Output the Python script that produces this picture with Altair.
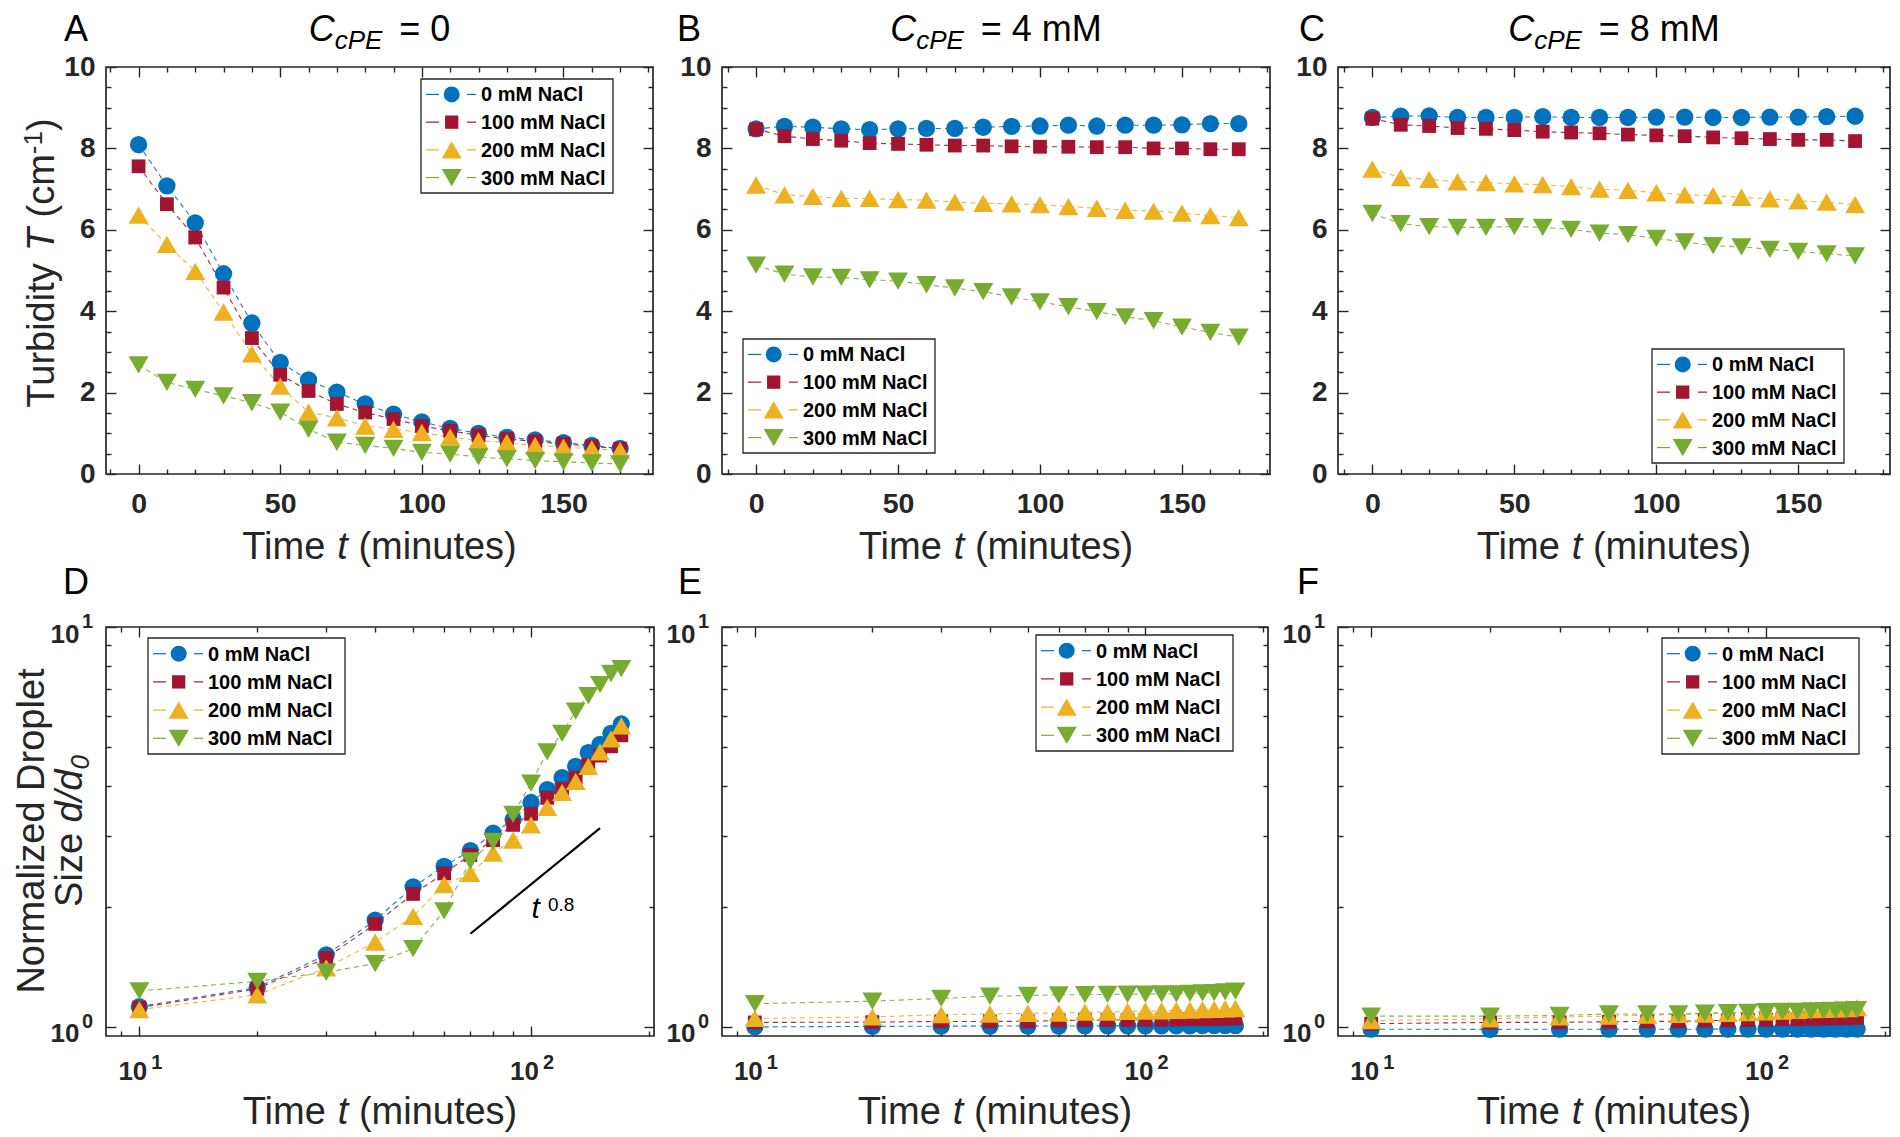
import altair as alt
import pandas as pd

FONT = "Liberation Sans"
INK = "#262626"

# ---------------- data ----------------
SERIES = ["0 mM NaCl", "100 mM NaCl", "200 mM NaCl", "300 mM NaCl"]
COLORS = ["#0072BD", "#A2142F", "#EDB120", "#77AC30"]
SHAPES = ["circle", "square", "triangle-up", "triangle-down"]
MARKER_SIZES = [300, 190, 400, 400]
LEGEND_MARKER_SIZES = [256, 177, 400, 400]

T_LIN = [0, 10, 20, 30, 40, 50, 60, 70, 80, 90, 100, 110, 120, 130, 140, 150, 160, 170]
T_LOG = [10, 20, 30, 40, 50, 60, 70, 80, 90, 100, 110, 120, 130, 140, 150, 160, 170]

# Panel A: C_cPE = 0, turbidity
A_0 = [8.09, 7.08, 6.17, 4.92, 3.71, 2.74, 2.31, 2.01, 1.72, 1.47, 1.28, 1.12, 1.00, 0.90, 0.84, 0.77, 0.70, 0.63]
A_100 = [7.56, 6.63, 5.81, 4.58, 3.34, 2.44, 2.04, 1.72, 1.51, 1.35, 1.18, 1.06, 0.95, 0.86, 0.80, 0.74, 0.68, 0.62]
A_200 = [6.36, 5.64, 4.98, 3.98, 2.95, 2.16, 1.52, 1.38, 1.18, 1.10, 1.02, 0.91, 0.82, 0.77, 0.70, 0.66, 0.62, 0.58]
A_300 = [2.68, 2.25, 2.08, 1.92, 1.75, 1.52, 1.10, 0.78, 0.70, 0.63, 0.53, 0.49, 0.42, 0.37, 0.33, 0.30, 0.27, 0.25]

# Panel B: C_cPE = 4 mM
B_0 = [8.48, 8.54, 8.52, 8.48, 8.46, 8.48, 8.49, 8.49, 8.52, 8.54, 8.55, 8.57, 8.55, 8.57, 8.57, 8.58, 8.61, 8.61]
B_100 = [8.47, 8.30, 8.23, 8.19, 8.13, 8.11, 8.09, 8.07, 8.07, 8.05, 8.04, 8.04, 8.03, 8.03, 8.00, 8.00, 7.98, 7.98]
B_200 = [7.10, 6.86, 6.82, 6.77, 6.77, 6.74, 6.73, 6.68, 6.65, 6.64, 6.62, 6.57, 6.53, 6.48, 6.46, 6.41, 6.35, 6.30]
B_300 = [5.13, 4.91, 4.84, 4.83, 4.77, 4.74, 4.65, 4.57, 4.48, 4.35, 4.23, 4.11, 3.99, 3.86, 3.77, 3.61, 3.48, 3.36]

# Panel C: C_cPE = 8 mM
C_0 = [8.76, 8.79, 8.80, 8.76, 8.76, 8.76, 8.78, 8.76, 8.76, 8.76, 8.77, 8.77, 8.76, 8.76, 8.77, 8.77, 8.78, 8.79]
C_100 = [8.73, 8.58, 8.55, 8.50, 8.48, 8.45, 8.41, 8.39, 8.37, 8.34, 8.32, 8.30, 8.27, 8.25, 8.23, 8.21, 8.21, 8.18]
C_200 = [7.49, 7.28, 7.24, 7.18, 7.16, 7.13, 7.11, 7.06, 7.00, 6.97, 6.91, 6.86, 6.84, 6.80, 6.76, 6.71, 6.68, 6.62]
C_300 = [6.40, 6.15, 6.08, 6.06, 6.06, 6.08, 6.06, 6.01, 5.92, 5.88, 5.79, 5.70, 5.61, 5.58, 5.52, 5.47, 5.41, 5.36]

# Panel D: normalized droplet size, C_cPE = 0
D_0 = [1.124, 1.255, 1.514, 1.85, 2.24, 2.52, 2.76, 3.05, 3.30, 3.64, 3.92, 4.20, 4.48, 4.85, 5.09, 5.42, 5.72]
D_100 = [1.117, 1.245, 1.488, 1.81, 2.15, 2.42, 2.69, 2.93, 3.20, 3.41, 3.74, 3.94, 4.20, 4.52, 4.77, 5.03, 5.36]
D_200 = [1.105, 1.203, 1.405, 1.63, 1.89, 2.27, 2.42, 2.72, 2.93, 3.20, 3.54, 3.86, 4.11, 4.48, 4.87, 5.25, 5.66]
D_300 = [1.23, 1.30, 1.37, 1.44, 1.57, 1.95, 2.60, 2.91, 3.40, 4.07, 4.87, 5.42, 6.16, 6.73, 7.18, 7.65, 7.87]

# Panel E: C_cPE = 4 mM
E_0 = [1.000, 1.003, 1.004, 1.005, 1.005, 1.005, 1.006, 1.006, 1.006, 1.006, 1.006, 1.006, 1.006, 1.007, 1.007, 1.007, 1.007]
E_100 = [1.026, 1.028, 1.032, 1.032, 1.033, 1.037, 1.040, 1.040, 1.041, 1.042, 1.042, 1.044, 1.045, 1.046, 1.047, 1.048, 1.050]
E_200 = [1.050, 1.059, 1.073, 1.077, 1.082, 1.083, 1.089, 1.089, 1.093, 1.096, 1.097, 1.100, 1.101, 1.105, 1.106, 1.110, 1.112]
E_300 = [1.143, 1.160, 1.178, 1.193, 1.198, 1.203, 1.204, 1.206, 1.207, 1.208, 1.209, 1.210, 1.213, 1.216, 1.218, 1.224, 1.229]

# Panel F: C_cPE = 8 mM
F_0 = [0.987, 0.986, 0.987, 0.987, 0.987, 0.987, 0.987, 0.988, 0.988, 0.988, 0.988, 0.988, 0.988, 0.988, 0.988, 0.988, 0.988]
F_100 = [1.019, 1.026, 1.027, 1.030, 1.032, 1.033, 1.037, 1.038, 1.041, 1.042, 1.046, 1.046, 1.048, 1.049, 1.050, 1.052, 1.054]
F_200 = [1.037, 1.048, 1.059, 1.064, 1.070, 1.075, 1.077, 1.082, 1.086, 1.091, 1.096, 1.100, 1.105, 1.106, 1.110, 1.112, 1.117]
F_300 = [1.064, 1.064, 1.068, 1.077, 1.077, 1.078, 1.082, 1.086, 1.087, 1.091, 1.093, 1.094, 1.096, 1.098, 1.100, 1.101, 1.105]

# t^0.8 guide in panel D
SLOPE_T = [70, 150]
SLOPE_V = [1.71, 3.14]
NOTE_T = [100.3, 110.4]
NOTE_V = [1.876, 1.953]
NOTE_TXT = ["t", "0.8"]

# tick values
LIN_X_MAJ = [0, 50, 100, 150]
LIN_X_MIN = [-10, 10, 20, 30, 40, 60, 70, 80, 90, 110, 120, 130, 140, 160, 170, 180]
LIN_Y_MAJ = [0, 2, 4, 6, 8, 10]
LIN_Y_MIN = [0.5, 1, 1.5, 2.5, 3, 3.5, 4.5, 5, 5.5, 6.5, 7, 7.5, 8.5, 9, 9.5]
LOG_X_MAJ = [10, 100]
LOG_X_EXP = ["1", "2"]
LOG_X_MIN = [9, 20, 30, 40, 50, 60, 70, 80, 90, 200]
LOG_Y_MAJ = [1, 10]
LOG_Y_EXP = ["0", "1"]
LOG_Y_MIN = [2, 3, 4, 5, 6, 7, 8, 9]

ARIAL = {' ': .278, '=': .584, 'm': .833, 'M': .833, 'T': .611, 'i': .222, 'e': .556, 't': .278,
         '(': .333, ')': .333, 'n': .556, 'u': .556, 's': .5, 'S': .667, 'z': .5, 'c': .5,
         'P': .667, 'E': .667, 'C': .722, 'd': .556, '/': .278, 'r': .333, 'b': .556, 'y': .5,
         '-': .333}


def tw(s, size):
    return sum(ARIAL.get(ch, 0.556) for ch in s) * size


def long_df(t, cols):
    rows = []
    for s, vals in zip(SERIES, cols):
        for tt, vv in zip(t, vals):
            rows.append({"t": tt, "v": vv, "series": s})
    return pd.DataFrame(rows)


def text_layer(s, x, y, size, style="normal", weight="normal", align="left", angle=None, color="black"):
    kw = dict(align=align, baseline="alphabetic", font=FONT, fontSize=size,
              fontStyle=style, fontWeight=weight, color=color)
    if angle is not None:
        kw["angle"] = angle
    return alt.Chart(pd.DataFrame({"s": [s]})).mark_text(**kw).encode(
        x=alt.value(x), y=alt.value(y), text="s:N")


def ax(orient, values, length, **kw):
    d = dict(orient=orient, values=values, tickSize=length, offset=-length, domain=False,
             grid=False, ticks=True, tickColor=INK, tickWidth=1.4, labels=False, title=None)
    d.update(kw)
    return alt.Axis(**d)


def lab(**kw):
    d = dict(labels=True, labelFont=FONT, labelFontWeight="bold", labelColor=INK,
             labelFlush=False, labelOverlap=False)
    d.update(kw)
    return d


def legend_layers(lx, ly, w, h, pitch):
    out = [alt.Chart(pd.DataFrame({"s": [0]})).mark_rect(
        fill="white", stroke=INK, strokeWidth=1.3).encode(
        x=alt.value(lx), x2=alt.value(lx + w), y=alt.value(ly), y2=alt.value(ly + h))]
    for i, (s, shp, sz, col) in enumerate(zip(SERIES, SHAPES, LEGEND_MARKER_SIZES, COLORS)):
        yc = ly + h / 2 + (i - 1.5) * pitch
        one = alt.Chart(pd.DataFrame({"series": [s]}))
        out.append(one.mark_rule(color=col, strokeWidth=1.2).encode(
            x=alt.value(lx + 5), x2=alt.value(lx + 18), y=alt.value(yc)))
        out.append(one.mark_rule(color=col, strokeWidth=1.2).encode(
            x=alt.value(lx + 46), x2=alt.value(lx + 55), y=alt.value(yc)))
        out.append(one.mark_point(filled=True, opacity=1, shape=shp, size=sz, color=col).encode(
            x=alt.value(lx + 30.7), y=alt.value(yc)))
        out.append(one.mark_text(align="left", baseline="middle", font=FONT, fontSize=20,
                                 fontWeight="bold", color="black").encode(
            x=alt.value(lx + 60), y=alt.value(yc + 1), text="series:N"))
    return out


def make_panel(kind, cols, W, H, xdom, leg, letter, letter_xy,
               title_rest=None, ytitle=None, note=False, anchor=None, xtitle_dy=87):
    t = T_LIN if kind == "lin" else T_LOG
    df = long_df(t, cols)
    if kind == "lin":
        xs = alt.Scale(domain=xdom, nice=False, zero=False)
        ys = alt.Scale(domain=[0, 10], nice=False, zero=False)
        xmaj, xmin, ymaj, ymin = LIN_X_MAJ, LIN_X_MIN, LIN_Y_MAJ, LIN_Y_MIN
        xl = lab(labelPadding=15, labelFontSize=28.5)
        yl = lab(labelPadding=11, labelFontSize=28)
    else:
        xs = alt.Scale(type="log", domain=xdom, nice=False)
        ys = alt.Scale(type="log", domain=[0.949, 10], nice=False)
        xmaj, xmin, ymaj, ymin = LOG_X_MAJ, LOG_X_MIN, LOG_Y_MAJ, LOG_Y_MIN
        xl = lab(labelPadding=22, labelFontSize=26, labelExpr="'10'", labelOffset=-7)
        yl = lab(labelPadding=27, labelFontSize=26, labelExpr="'10'", labelOffset=7)

    empty = alt.Chart(df).transform_filter("datum.t < -1000")

    def axis_layer(xa, ya):
        return empty.mark_point(opacity=0).encode(
            x=alt.X("t:Q", scale=xs, axis=xa, title=None),
            y=alt.Y("v:Q", scale=ys, axis=ya, title=None))

    layers = [
        axis_layer(ax("bottom", xmaj, 10, **xl), ax("left", ymaj, 10, **yl)),
        axis_layer(ax("bottom", xmin, 5), ax("left", ymin, 5)),
        axis_layer(ax("top", xmaj, 10), ax("right", ymaj, 10)),
        axis_layer(ax("top", xmin, 5), ax("right", ymin, 5)),
    ]

    X = alt.X("t:Q", scale=xs, axis=None)
    Y = alt.Y("v:Q", scale=ys, axis=None)

    layers.append(alt.Chart(df).mark_line(strokeDash=[5, 4], strokeWidth=1.1, opacity=0.9).encode(
        x=X, y=Y,
        color=alt.Color("series:N", scale=alt.Scale(domain=SERIES, range=COLORS), legend=None),
        order=alt.Order("t:Q")))

    for s, shp, sz, col in zip(SERIES, SHAPES, MARKER_SIZES, COLORS):
        layers.append(alt.Chart(df).transform_filter(alt.datum.series == s).mark_point(
            filled=True, opacity=1, shape=shp, size=sz, color=col).encode(x=X, y=Y))

    if note:
        layers.append(alt.Chart(pd.DataFrame({"t": SLOPE_T, "v": SLOPE_V})).mark_line(
            color="black", strokeWidth=2.2).encode(x=X, y=Y))
        nd = pd.DataFrame({"t": NOTE_T, "v": NOTE_V, "s": NOTE_TXT})
        layers.append(alt.Chart(nd).transform_filter("datum.s == 't'").mark_text(
            align="left", baseline="alphabetic", font=FONT, fontSize=30, fontStyle="italic",
            color="black").encode(x=alt.X("t:Q", scale=xs, axis=None),
                                  y=alt.Y("v:Q", scale=ys, axis=None), text="s:N"))
        layers.append(alt.Chart(nd).transform_filter("datum.s != 't'").mark_text(
            align="left", baseline="alphabetic", font=FONT, fontSize=19,
            color="black").encode(x=alt.X("t:Q", scale=xs, axis=None),
                                  y=alt.Y("v:Q", scale=ys, axis=None), text="s:N"))

    if kind == "log":
        layers.append(alt.Chart(pd.DataFrame({"v": LOG_X_MAJ, "e": LOG_X_EXP})).mark_text(
            align="left", baseline="alphabetic", dx=12, font=FONT, fontSize=20,
            fontWeight="bold", color=INK).encode(
            x=alt.X("v:Q", scale=xs, axis=None), y=alt.value(H + 33), text="e:N"))
        layers.append(alt.Chart(pd.DataFrame({"v": LOG_Y_MAJ, "e": LOG_Y_EXP})).mark_text(
            align="left", baseline="alphabetic", dy=1, font=FONT, fontSize=20,
            fontWeight="bold", color=INK).encode(
            x=alt.value(-24), y=alt.Y("v:Q", scale=ys, axis=None), text="e:N"))

    # legend box
    layers += legend_layers(*leg)

    # panel letter
    layers.append(text_layer(letter, letter_xy[0], letter_xy[1], 36))

    # panel title  C_cPE = ...
    if title_rest is not None:
        wC, wS, gap, wR = tw("C", 36), tw("cPE", 26), 17, tw(title_rest, 36)
        x0 = W / 2 - (wC + wS + gap + wR) / 2
        layers.append(text_layer("C", x0, -26, 36, style="italic"))
        layers.append(text_layer("cPE", x0 + wC, -18, 26, style="italic"))
        layers.append(text_layer(title_rest, x0 + wC + wS + gap, -26, 36))

    # x title: Time t (minutes)
    fs = 38
    w1, sp, w2, w3 = tw("Time", fs), tw(" ", fs), tw("t", fs), tw("(minutes)", fs)
    x0 = W / 2 - (w1 + 2 * sp + w2 + w3) / 2
    yb = H + xtitle_dy
    layers.append(text_layer("Time", x0, yb, fs, color=INK))
    layers.append(text_layer("t", x0 + w1 + sp, yb, fs, style="italic", color=INK))
    layers.append(text_layer("(minutes)", x0 + w1 + 2 * sp + w2, yb, fs, color=INK))

    # y titles
    if ytitle == "turbidity":
        xb, yc = -52, 196
        parts = [("Turbidity", fs, "normal", 0), (" ", fs, "normal", 0), ("T", fs, "italic", 0),
                 (" ", fs, "normal", 0), ("(cm", fs, "normal", 0), ("-1", 26, "normal", -12),
                 (")", fs, "normal", 0)]
        total = sum(tw(p[0], p[1]) for p in parts)
        y = yc + total / 2
        for s, size, style, dxx in parts:
            if s.strip():
                layers.append(text_layer(s, xb + dxx, y, size, style=style, angle=270, color=INK))
            y -= tw(s, size)
    elif ytitle == "droplet":
        yc = 204
        layers.append(text_layer("Normalized Droplet", -62, yc, fs, align="center", angle=270, color=INK))
        xb = -24
        parts = [("Size", fs, "normal", 0), (" ", fs, "normal", 0), ("d/d", fs, "italic", 0),
                 ("0", 26, "italic", 7)]
        total = sum(tw(p[0], p[1]) for p in parts)
        y = yc + total / 2
        for s, size, style, dxx in parts:
            if s.strip():
                layers.append(text_layer(s, xb + dxx, y, size, style=style, angle=270, color=INK))
            y -= tw(s, size)

    if anchor is not None:
        layers.append(alt.Chart(pd.DataFrame({"s": [0]})).mark_rule(opacity=0, strokeWidth=0.5).encode(
            x=alt.value(anchor[0]), x2=alt.value(anchor[0]),
            y=alt.value(anchor[1]), y2=alt.value(anchor[1] + 1)))

    return alt.layer(*layers).resolve_axis(x="independent", y="independent").properties(
        width=W, height=H)


H1, H2 = 407, 409
pA = make_panel("lin", [A_0, A_100, A_200, A_300], 547, H1, [-11.5, 181.6], (315, 12, 192, 114, 27.7),
                "A", (-42, -26), title_rest="= 0", ytitle="turbidity", anchor=(-97, -58), xtitle_dy=85)
pB = make_panel("lin", [B_0, B_100, B_200, B_300], 548, H1, [-12, 181], (21, 272, 192, 114, 27.7),
                "B", (-45, -26), title_rest="= 4 mM", xtitle_dy=85)
pC = make_panel("lin", [C_0, C_100, C_200, C_300], 552, H1, [-12.1, 182.3], (314, 282, 192, 114, 27.7),
                "C", (-39, -26), title_rest="= 8 mM", xtitle_dy=85)
pD = make_panel("log", [D_0, D_100, D_200, D_300], 548, H2, [8.22, 206], (42, 11, 197, 116, 28.2),
                "D", (-43, -33), ytitle="droplet", note=True, xtitle_dy=88)
pE = make_panel("log", [E_0, E_100, E_200, E_300], 546, H2, [8.24, 206], (314, 8, 197, 116, 28.2),
                "E", (-44, -33), xtitle_dy=88)
pF = make_panel("log", [F_0, F_100, F_200, F_300], 552, H2, [8.24, 206], (324, 11, 197, 116, 28.2),
                "F", (-41, -33), xtitle_dy=88)

RES = dict(color="independent")
chart = alt.concat(pA, pB, pC, pD, pE, pF, columns=3, bounds="flush",
                   spacing={"row": 153, "column": 68}).resolve_scale(**RES).properties(
    padding=0, background="white"
).configure_view(stroke=INK, strokeWidth=1.7)

chart.save("out.html", embed_options={"renderer": "svg", "actions": False})
